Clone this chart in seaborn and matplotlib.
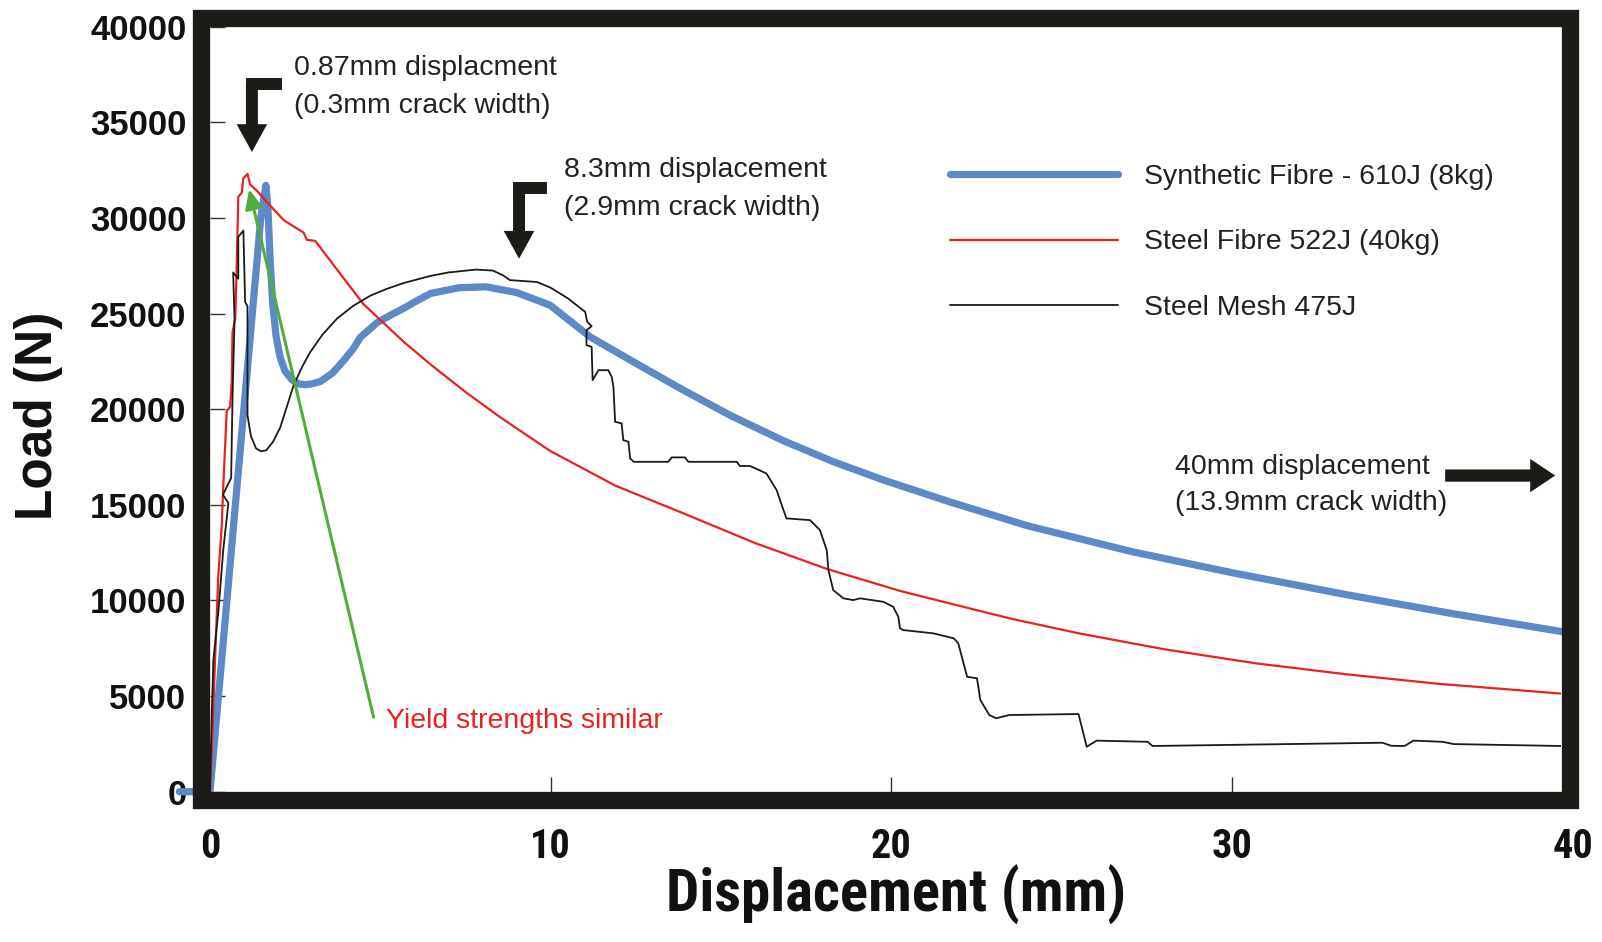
import matplotlib
matplotlib.use("Agg")
import matplotlib.pyplot as plt
import seaborn as sns
import pandas as pd
from matplotlib import font_manager
from matplotlib.patches import Rectangle
import matplotlib.transforms as mtransforms

# ---------------- data ----------------
synthetic_x = [-0.9, 0.0, 1.49, 1.64, 1.70, 1.76, 1.84, 1.94, 2.06, 2.2, 2.4, 2.6, 2.8, 3.0, 3.24, 3.6,
               3.92, 4.2, 4.41, 4.9, 5.3, 5.69, 6.1, 6.47, 7.3, 8.1, 9.0, 9.98, 11.15, 12.5, 13.89, 15.3,
               16.83, 18.3, 19.76, 21.72, 24.0, 27.06, 30.0, 33.36, 36.5, 39.65]
synthetic_y = [0, 0, 30000, 31700, 30500, 28000, 25500, 23800, 22700, 22000, 21550, 21320, 21280, 21330,
               21450, 21900, 22540, 23150, 23750, 24520, 24920, 25280, 25700, 26050, 26350, 26400, 26100,
               25440, 23790, 22400, 21000, 19650, 18350, 17250, 16300, 15150, 13900, 12550, 11450, 10300,
               9300, 8380]

steel_fibre_x = [0.0, 0.08, 0.15, 0.245, 0.34, 0.39, 0.49, 0.59, 0.64, 0.66, 0.74, 0.78, 0.83, 0.93, 0.98,
                 1.10, 1.18, 1.37, 1.76, 2.16, 2.75, 2.84, 3.09, 3.6, 4.5, 5.1, 5.7, 6.5, 7.5, 8.5, 10.0,
                 11.9, 13.9, 16.0, 18.1, 20.25, 21.7, 23.5, 25.5, 28.0, 30.7, 33.3, 36.0, 39.65]
steel_fibre_y = [0, 3500, 7000, 11360, 13770, 15960, 19910, 20130, 21450, 24000, 24740, 27150, 31100, 31320,
                 32080, 32300, 31750, 31430, 30660, 29890, 29230, 28860, 28800, 27600, 25500, 24500, 23500,
                 22300, 20900, 19600, 17800, 16000, 14550, 13000, 11650, 10500, 9850, 9050, 8280, 7450,
                 6710, 6150, 5650, 5130]

steel_mesh_x = [0.0, 0.05, 0.1, 0.25, 0.39, 0.54, 0.38, 0.62, 0.66, 0.72, 0.68, 0.83, 0.83, 0.98, 1.03,
                1.10, 1.10, 1.2, 1.35, 1.5, 1.65, 1.85, 2.06, 2.25, 2.45, 2.7, 2.94, 3.3, 3.73, 4.2, 4.71,
                5.2, 5.69, 6.47, 7.0, 7.8, 8.3, 8.6, 8.8, 9.6, 10.0, 10.5, 11.01, 11.07, 11.20, 11.05, 11.05,
                11.20, 11.23, 11.40, 11.69, 11.79, 11.84, 11.89, 12.08, 12.13, 12.28, 12.33, 12.43, 13.45,
                13.55, 13.94, 14.04, 15.46, 15.55, 15.85, 16.33, 16.63, 16.83, 16.92, 17.61, 17.90, 18.10,
                18.15, 18.29, 18.59, 18.88, 19.08, 19.76, 20.05, 20.20, 20.25, 20.35, 21.23, 21.83, 21.96,
                22.22, 22.51, 22.61, 22.87, 23.07, 23.46, 25.49, 25.73, 26.02, 27.52, 27.66, 34.41, 34.67,
                35.06, 35.32, 36.17, 36.5, 39.65]
steel_mesh_y = [0, 4000, 6900, 9500, 12670, 15090, 15530, 16400, 20500, 24700, 27150, 26820, 29010, 29340,
                25610, 25390, 19690, 18600, 17950, 17800, 17850, 18300, 19040, 20100, 21230, 22200, 22980,
                23900, 24740, 25400, 25940, 26300, 26600, 26970, 27150, 27300, 27250, 27000, 26750, 26650,
                26350, 25800, 25090, 24570, 24340, 24130, 23350, 23260, 21520, 22040, 22040, 21690, 21170,
                19340, 19260, 18380, 18300, 17430, 17250, 17250, 17480, 17480, 17250, 17250, 17030, 17030,
                16640, 15770, 14730, 14290, 14200, 13680, 12630, 11590, 10540, 10110, 10020, 10110, 9930,
                9670, 9150, 8540, 8450, 8280, 8020, 7760, 6010, 5930, 4790, 4010, 3840, 4010, 4060, 2350,
                2670, 2610, 2390, 2560, 2400, 2390, 2670, 2610, 2490, 2390]

series_labels = ["Synthetic Fibre - 610J (8kg)", "Steel Fibre 522J (40kg)", "Steel Mesh 475J"]
x_ticks = [0, 10, 20, 30]
x_tick_labels = ["0", "10", "20", "30"]
x_extra_tick = 40
y_ticks = [0, 5000, 10000, 15000, 20000, 25000, 30000, 35000, 40000]
y_tick_labels = ["0", "5000", "10000", "15000", "20000", "25000", "30000", "35000", "40000"]

# annotation anchors (data units)
yield_arrow_start = (4.8, 3900)
yield_arrow_tip = (1.15, 31500)

# ---------------- style ----------------
sns.set_theme(style="white")
plt.rcParams["font.family"] = ["Liberation Sans", "DejaVu Sans"]
names = {f.name for f in font_manager.fontManager.ttflist}
NARROW = "Liberation Sans"
for cand in ["Liberation Sans Narrow", "Roboto Condensed", "Open Sans Condensed", "Arial Narrow"]:
    if cand in names:
        NARROW = cand
        break

BLUE = "#5d89c6"
RED = "#e8231d"
BLACK = "#1a1a1a"
GREEN = "#4fae3c"
FRAME = "#1d1b17"
TXT = "#222222"

W, H = 1602, 942
fig = plt.figure(figsize=(W / 100, H / 100), dpi=100)
ax_l, ax_r, ax_t, ax_b = 210, 1561, 26.7, 791.7
ax = fig.add_axes([ax_l / W, 1 - ax_b / H, (ax_r - ax_l) / W, (ax_b - ax_t) / H])
ax_wpx, ax_hpx = ax_r - ax_l, ax_b - ax_t

df_syn = pd.DataFrame({"x": synthetic_x, "y": synthetic_y})
df_sf = pd.DataFrame({"x": steel_fibre_x, "y": steel_fibre_y})
df_sm = pd.DataFrame({"x": steel_mesh_x, "y": steel_mesh_y})

sns.lineplot(data=df_syn, x="x", y="y", sort=False, estimator=None, ax=ax, color=BLUE, lw=5.2,
             label=series_labels[0], clip_on=False, zorder=2, solid_joinstyle="round")
sns.lineplot(data=df_sf, x="x", y="y", sort=False, estimator=None, ax=ax, color=RED, lw=1.6,
             label=series_labels[1], zorder=3)
sns.lineplot(data=df_sm, x="x", y="y", sort=False, estimator=None, ax=ax, color=BLACK, lw=1.3,
             label=series_labels[2], zorder=4)

ax.set_xlim(0, 39.65)
ax.set_ylim(0, 40000)

# green "yield" arrow
ax.annotate("", xy=yield_arrow_tip, xytext=yield_arrow_start,
            arrowprops=dict(arrowstyle="-|>,head_length=0.9,head_width=0.4", color=GREEN, lw=2.2,
                            shrinkA=0, shrinkB=0, mutation_scale=13), zorder=6)
ax.text(5.17, 3330, "Yield strengths similar", color=RED, fontsize=20.5, ha="left", va="baseline")

# bent black arrows
def bent_arrow(stem_x, bar_y, bar_right, tip_y):
    ax.plot([stem_x, bar_right], [bar_y, bar_y], color=FRAME, lw=8.6, solid_capstyle="projecting", zorder=7)
    ax.annotate("", xy=(stem_x, tip_y), xytext=(stem_x, bar_y),
                arrowprops=dict(arrowstyle="simple,head_length=1.0,head_width=1.1,tail_width=0.43",
                                color=FRAME, shrinkA=0, shrinkB=0, mutation_scale=20, lw=0), zorder=7)

bent_arrow(1.23, 37030, 1.93, 33450)
bent_arrow(9.07, 31560, 9.70, 27870)
ax.annotate("", xy=(39.48, 16530), xytext=(36.25, 16530),
            arrowprops=dict(arrowstyle="simple,head_length=0.9,head_width=1.2,tail_width=0.44",
                            color=FRAME, shrinkA=0, shrinkB=0, mutation_scale=20, lw=0), zorder=7)

ann_kw = dict(fontsize=20.5, color=TXT, ha="left", va="baseline")
ax.text(2.47, 37465, "0.87mm displacment", **ann_kw)
ax.text(2.47, 35480, "(0.3mm crack width)", **ann_kw)
ax.text(10.39, 32130, "8.3mm displacement", **ann_kw)
ax.text(10.39, 30150, "(2.9mm crack width)", **ann_kw)
ax.text(28.32, 16630, "40mm displacement", **ann_kw)
ax.text(28.32, 14730, "(13.9mm crack width)", **ann_kw)

# legend
leg = ax.legend(loc="upper left", bbox_to_anchor=(0.5477, 0.821), frameon=False, fontsize=20.5,
                handlelength=5.9, handletextpad=0.9, labelspacing=1.4, borderpad=0, borderaxespad=0)
for t in leg.get_texts():
    t.set_color(TXT)

# ticks
XT_SIZE = 29
XT_PAD = 26
ax.set_xticks(x_ticks)
ax.set_xticklabels(x_tick_labels, fontfamily=NARROW, fontweight="bold", fontsize=XT_SIZE, color="#111111")
ax.set_yticks(y_ticks)
ax.set_yticklabels(y_tick_labels, fontweight="bold", fontsize=25, color="#111111")
ax.tick_params(axis="both", which="both", direction="in", length=11, width=1.0, color="#333333",
               bottom=True, left=True, top=False, right=False)
ax.tick_params(axis="x", pad=XT_PAD)
ax.tick_params(axis="y", pad=17)
pad_px = XT_PAD * 100 / 72
trans = mtransforms.blended_transform_factory(ax.transData, ax.transAxes)
ax.text(x_extra_tick, -pad_px / ax_hpx, "40", transform=trans, ha="center", va="top",
        fontfamily=NARROW, fontweight="bold", fontsize=XT_SIZE, color="#111111", clip_on=False)

# labels
xl = ax.set_xlabel("Displacement (mm)", fontfamily=NARROW, fontweight="bold", fontsize=40,
                   color="#111111", va="baseline")
ax.xaxis.set_label_coords(0.508, (ax_b - 912) / ax_hpx)
ax.set_ylabel("Load (N)", fontweight="bold", fontsize=37, color="#111111")
ax.yaxis.set_label_coords((63 - ax_l) / ax_wpx, 0.491)

# fit x-label width to the reference width (~460 px)
fig.canvas.draw()
bb = xl.get_window_extent(renderer=fig.canvas.get_renderer())
if bb.width > 0:
    xl.set_fontsize(40 * 460 / bb.width)

# thick frame outside the data area
for s in ax.spines.values():
    s.set_visible(False)
t_px = 17.3
dx, dy = (t_px / 2) / ax_wpx, (t_px / 2) / ax_hpx
ax.add_patch(Rectangle((-dx, -dy), 1 + 2 * dx, 1 + 2 * dy, transform=ax.transAxes, fill=False,
                       lw=t_px * 0.72, ec=FRAME, joinstyle="miter", clip_on=False, zorder=10))

fig.savefig("out.png", dpi=100)
